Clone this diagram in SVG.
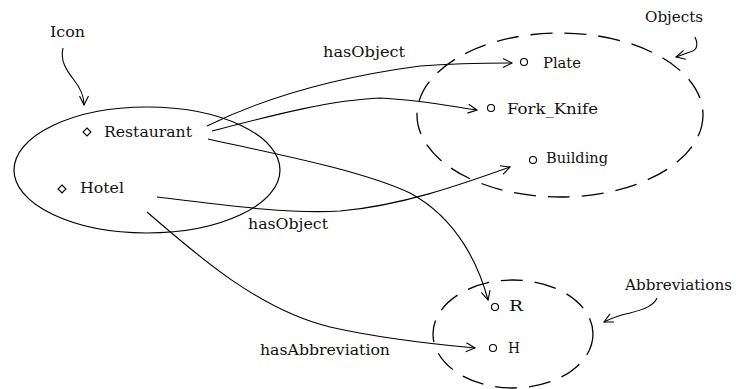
<svg xmlns="http://www.w3.org/2000/svg" width="736" height="389" viewBox="0 0 736 389">
<defs>
<style>
.t{font-family:"DejaVu Serif","Liberation Serif",serif;font-size:15px;fill:#111}
.c{fill:none;stroke:#000;stroke-width:1.1}
.e{fill:none;stroke:#000;stroke-width:1.2}
.d{fill:none;stroke:#000;stroke-width:1.3;stroke-dasharray:22 12}
.m{fill:#fff;stroke:#000;stroke-width:1.1}
</style>
<marker id="arr" markerWidth="12" markerHeight="12" refX="10" refY="5" orient="auto" markerUnits="userSpaceOnUse">
<path d="M1,0.5 L10,5 L1,9.5" fill="none" stroke="#000" stroke-width="1.1"/>
</marker>
</defs>
<rect width="736" height="389" fill="#fff"/>

<g id="icon-set">
<ellipse class="e" cx="147" cy="170" rx="133" ry="63"/>
<text class="t" x="50" y="37" textLength="35" lengthAdjust="spacingAndGlyphs">Icon</text>
</g>
<g id="objects-set">
<ellipse class="d" cx="560" cy="115" rx="143" ry="82"/>
<text class="t" x="645" y="22" textLength="58" lengthAdjust="spacingAndGlyphs">Objects</text>
</g>
<g id="abbreviations-set">
<ellipse class="d" cx="513" cy="334" rx="80" ry="54" stroke-dasharray="24 14"/>
<text class="t" x="625" y="290" textLength="107" lengthAdjust="spacingAndGlyphs">Abbreviations</text>
</g>

<g id="restaurant">
<path class="m" d="M87,128 L91,132 L87,136 L83,132 Z"/>
<text class="t" x="104" y="137" textLength="88" lengthAdjust="spacingAndGlyphs">Restaurant</text>
</g>
<g id="hotel">
<path class="m" d="M62,185 L66,189 L62,193 L58,189 Z"/>
<text class="t" x="80" y="193" textLength="44" lengthAdjust="spacingAndGlyphs">Hotel</text>
</g>
<g id="plate">
<circle class="m" cx="524" cy="62" r="3.5"/>
<text class="t" x="543" y="68" textLength="38" lengthAdjust="spacingAndGlyphs">Plate</text>
</g>
<g id="fork-knife">
<circle class="m" cx="491" cy="108" r="3.5"/>
<text class="t" x="507" y="114" textLength="91" lengthAdjust="spacingAndGlyphs">Fork_Knife</text>
</g>
<g id="building">
<circle class="m" cx="533" cy="160" r="3.5"/>
<text class="t" x="546" y="163" textLength="62" lengthAdjust="spacingAndGlyphs">Building</text>
</g>
<g id="r">
<circle class="m" cx="495" cy="307" r="3.5"/>
<text class="t" x="509" y="311" textLength="14" lengthAdjust="spacingAndGlyphs">R</text>
</g>
<g id="h">
<circle class="m" cx="493" cy="348" r="3.5"/>
<text class="t" x="508" y="353" textLength="12" lengthAdjust="spacingAndGlyphs">H</text>
</g>

<g id="connectors">
<path class="c" marker-end="url(#arr)" d="M207,126 C260,100 330,78 420,66 C460,63 490,63 512,63"/>
<path class="c" marker-end="url(#arr)" d="M212,131 C270,116 330,100 380,98 C420,100 450,106 477,110"/>
<path class="c" marker-end="url(#arr)" d="M208,139 C280,155 360,170 410,193 C460,220 480,270 488,300"/>
<path class="c" marker-end="url(#arr)" d="M157,197 C230,206 290,214 340,211 C400,206 460,185 510,167"/>
<path class="c" marker-end="url(#arr)" d="M147,212 C200,258 260,310 330,327 C370,336 420,343 475,348"/>
<path class="c" marker-end="url(#arr)" d="M63,48 C60,60 66,70 74,80 C82,90 84,97 84,105"/>
<path class="c" marker-end="url(#arr)" d="M695,37 C698,44 698,50 690,52 C684,54 680,56 676,57"/>
<path class="c" marker-end="url(#arr)" d="M657,298 C654,305 646,309 630,313 C620,315 612,318 604,322"/>
<text class="t" x="323" y="57" textLength="82" lengthAdjust="spacingAndGlyphs">hasObject</text>
<text class="t" x="248" y="229" textLength="80" lengthAdjust="spacingAndGlyphs">hasObject</text>
<text class="t" x="260" y="355" textLength="130" lengthAdjust="spacingAndGlyphs">hasAbbreviation</text>
</g>
</svg>
